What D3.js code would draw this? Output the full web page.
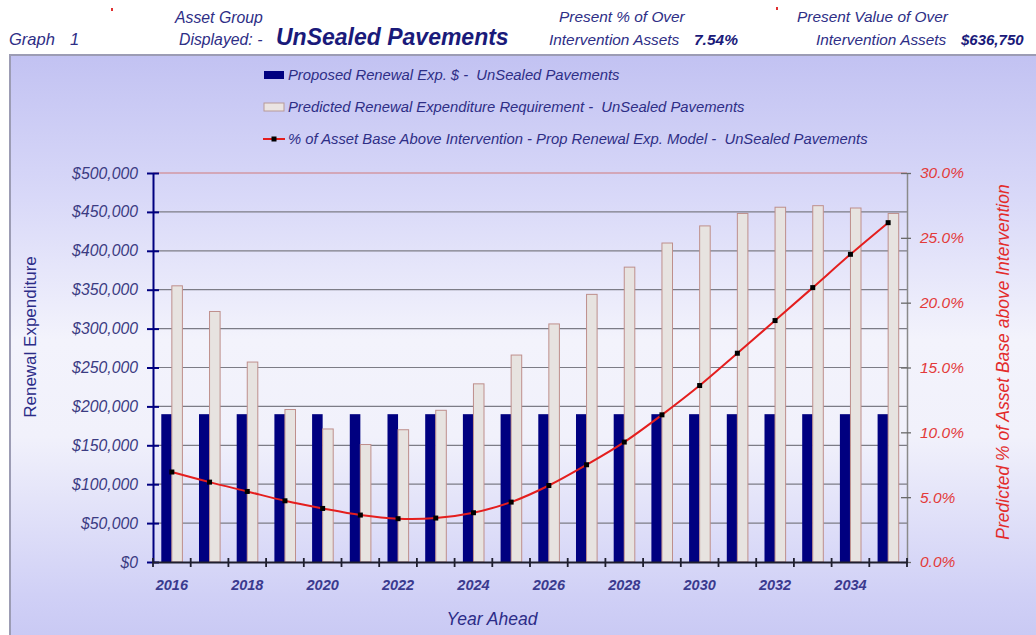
<!DOCTYPE html>
<html>
<head>
<meta charset="utf-8">
<script src="https://cdn.jsdelivr.net/npm/d3@7"></script>
<style>
  body { margin: 0; background: #ffffff; }
  svg { display: block; font-family: "Liberation Sans", Arial, sans-serif; }
</style>
</head>
<body>
<svg id="chart" width="1036" height="635"></svg>
<script>
// ---- data ----
const years = ["2016","2017","2018","2019","2020","2021","2022","2023","2024","2025",
               "2026","2027","2028","2029","2030","2031","2032","2033","2034","2035"];
const proposedRenewal = [190000,190000,190000,190000,190000,190000,190000,190000,190000,190000,
                         190000,190000,190000,190000,190000,190000,190000,190000,190000,190000];
const predictedRequirement = [355000,322000,257000,196000,171000,151000,170000,195000,229000,266000,
                              306000,344000,379000,410000,432000,448000,456000,458000,455000,448000];
const pctAboveIntervention = [6.94,6.16,5.44,4.72,4.13,3.62,3.34,3.39,3.80,4.62,
                              5.90,7.50,9.25,11.35,13.61,16.10,18.62,21.16,23.73,26.17];
const moneyTicks = [0,50000,100000,150000,200000,250000,300000,350000,400000,450000,500000];
const pctTicks = [0,5,10,15,20,25,30];
const yearLabels = ["2016","2018","2020","2022","2024","2026","2028","2030","2032","2034"];

const seriesNames = [
  "Proposed Renewal Exp. $ -  UnSealed Pavements",
  "Predicted Renewal Expenditure Requirement -  UnSealed Pavements",
  "% of Asset Base Above Intervention - Prop Renewal Exp. Model -  UnSealed Pavements"
];

// ---- setup ----
const svg = d3.select("#chart");
const W = 1036, H = 635;
const plot = { left: 153, right: 907, top: 173, bottom: 562 };
const navy = "#000080";
const textBlue = "#2e2e86";
const red = "#e32b2b";

// panel background
const defs = svg.append("defs");
const grad = defs.append("linearGradient").attr("id", "panelBg")
  .attr("x1", 0).attr("y1", 0).attr("x2", 0).attr("y2", 1);
[[0, "#c2c2f2"], [0.22, "#d8d8f8"], [0.45, "#f3f3fc"], [0.6, "#f1f1fb"], [0.85, "#d0d0f6"], [1, "#c1c1f1"]]
  .forEach(([o, c]) => grad.append("stop").attr("offset", o).attr("stop-color", c));

svg.append("rect").attr("x", 0).attr("y", 0).attr("width", W).attr("height", H).attr("fill", "#ffffff");
svg.append("rect").attr("x", 10).attr("y", 55).attr("width", W).attr("height", H)
  .attr("fill", "url(#panelBg)").attr("stroke", "#9c9cb4").attr("stroke-width", 2);

// ---- header ----
const header = svg.append("g").attr("fill", textBlue).attr("font-style", "italic");
header.append("text").attr("x", 9).attr("y", 45).attr("font-size", 16.5).text("Graph");
header.append("text").attr("x", 70).attr("y", 45).attr("font-size", 16.5).text("1");
header.append("text").attr("x", 175).attr("y", 23).attr("font-size", 15.8).text("Asset Group");
header.append("text").attr("x", 179).attr("y", 45).attr("font-size", 15.8).text("Displayed: -");
header.append("text").attr("x", 276).attr("y", 45).attr("font-size", 23).attr("font-weight", "bold")
  .attr("fill", "#1a1a7a").text("UnSealed Pavements");
header.append("text").attr("x", 559).attr("y", 22).attr("font-size", 15.4).text("Present % of Over");
header.append("text").attr("x", 549).attr("y", 45).attr("font-size", 15.4).text("Intervention Assets");
header.append("text").attr("x", 694).attr("y", 45).attr("font-size", 15.5).attr("font-weight", "bold")
  .attr("fill", "#1a1a7a").text("7.54%");
header.append("text").attr("x", 797).attr("y", 22).attr("font-size", 15.4).text("Present Value of Over");
header.append("text").attr("x", 816).attr("y", 45).attr("font-size", 15.4).text("Intervention Assets");
header.append("text").attr("x", 961).attr("y", 45).attr("font-size", 15).attr("font-weight", "bold")
  .attr("fill", "#1a1a7a").text("$636,750");
// small red markers in the header
svg.append("rect").attr("x", 111).attr("y", 8).attr("width", 2).attr("height", 3).attr("fill", "#e03030");
svg.append("rect").attr("x", 776).attr("y", 7).attr("width", 2).attr("height", 3).attr("fill", "#e03030");

// ---- scales ----
const x = d3.scaleBand().domain(years).range([plot.left, plot.right]).padding(0);
const yL = d3.scaleLinear().domain([0, 500000]).range([plot.bottom, plot.top]);
const yR = d3.scaleLinear().domain([0, 30]).range([plot.bottom, plot.top]);
const barW = x.bandwidth() * 0.28;
const cx = d => x(d) + x.bandwidth() / 2;

// ---- gridlines ----
svg.append("g").selectAll("line").data(moneyTicks.filter(v => v > 0)).join("line")
  .attr("x1", plot.left).attr("x2", plot.right)
  .attr("y1", d => yL(d)).attr("y2", d => yL(d))
  .attr("stroke", d => d === 500000 ? "#d27a7a" : "#7c7c86")
  .attr("stroke-width", 1.2);

// ---- bars ----
svg.append("g").selectAll("rect").data(years).join("rect")
  .attr("x", (d) => cx(d) - barW)
  .attr("y", (d, i) => yL(proposedRenewal[i]))
  .attr("width", barW)
  .attr("height", (d, i) => plot.bottom - yL(proposedRenewal[i]))
  .attr("fill", navy);

svg.append("g").selectAll("rect").data(years).join("rect")
  .attr("x", (d) => cx(d))
  .attr("y", (d, i) => yL(predictedRequirement[i]))
  .attr("width", barW)
  .attr("height", (d, i) => plot.bottom - yL(predictedRequirement[i]))
  .attr("fill", "#e7e3e0").attr("stroke", "#be8f8c").attr("stroke-width", 1);

// ---- line ----
const line = d3.line()
  .x((d, i) => cx(years[i]))
  .y(d => yR(d))
  .curve(d3.curveCatmullRom.alpha(0.5));
svg.append("path").datum(pctAboveIntervention)
  .attr("d", line).attr("fill", "none").attr("stroke", "#e41e1e").attr("stroke-width", 2);
svg.append("g").selectAll("rect").data(pctAboveIntervention).join("rect")
  .attr("x", (d, i) => cx(years[i]) - 2.5)
  .attr("y", d => yR(d) - 2.5)
  .attr("width", 5).attr("height", 5).attr("fill", "#000000");

// ---- left axis ----
const axL = svg.append("g").attr("transform", `translate(${plot.left},0)`)
  .call(d3.axisLeft(yL).tickValues(moneyTicks).tickFormat(d => "$" + d3.format(",")(d))
    .tickSizeInner(6).tickSizeOuter(0).tickPadding(9));
axL.select(".domain").attr("stroke", navy).attr("stroke-width", 2);
axL.selectAll(".tick line").attr("x1", 6).attr("stroke", navy).attr("stroke-width", 2);
axL.selectAll(".tick text").attr("font-size", 15.8).attr("font-style", "italic")
  .attr("fill", "#3b3b82").attr("font-family", "Liberation Sans, Arial, sans-serif");

// ---- right axis ----
const axR = svg.append("g").attr("transform", `translate(${plot.right},0)`)
  .call(d3.axisRight(yR).tickValues(pctTicks).tickFormat(d => d.toFixed(1) + "%")
    .tickSizeInner(4).tickSizeOuter(0).tickPadding(9));
axR.select(".domain").attr("stroke", "#8a8a8a").attr("stroke-width", 1.5);
axR.selectAll(".tick line").attr("x1", -6).attr("stroke", "#6a6a6a").attr("stroke-width", 1.3);
axR.selectAll(".tick text").attr("font-size", 15.5).attr("font-style", "italic")
  .attr("fill", "#e33a3a").attr("font-family", "Liberation Sans, Arial, sans-serif");

// ---- bottom axis ----
const axB = svg.append("g").attr("transform", `translate(0,${plot.bottom})`)
  .call(d3.axisBottom(x).tickValues(yearLabels).tickSize(0).tickPadding(18));
axB.select(".domain").attr("stroke", "#1e1e2e").attr("stroke-width", 2);
axB.selectAll(".tick text").attr("font-size", 14.5).attr("font-style", "italic").attr("font-weight", "bold")
  .attr("fill", "#3a3a8e").attr("font-family", "Liberation Sans, Arial, sans-serif");
// category boundary ticks
const bounds = years.map(d => x(d)).concat([plot.right]);
axB.append("g").selectAll("line").data(bounds).join("line")
  .attr("x1", d => d).attr("x2", d => d).attr("y1", -4).attr("y2", 5)
  .attr("stroke", "#1e1e2e").attr("stroke-width", 1.8);

// ---- axis titles ----
svg.append("text").attr("transform", "translate(36,337) rotate(-90)")
  .attr("text-anchor", "middle").attr("font-size", 17).attr("fill", "#2c2c88")
  .text("Renewal Expenditure");
svg.append("text").attr("transform", "translate(1009,362) rotate(-90)")
  .attr("text-anchor", "middle").attr("font-size", 17.5).attr("font-style", "italic").attr("fill", red)
  .text("Predicted % of Asset Base above Intervention");
svg.append("text").attr("x", 492).attr("y", 625)
  .attr("text-anchor", "middle").attr("font-size", 17.5).attr("font-style", "italic").attr("fill", "#2c2c88")
  .text("Year Ahead");

// ---- legend ----
const legend = svg.append("g");
const rowY = [75, 107, 139];
legend.append("rect").attr("x", 264).attr("y", rowY[0] - 4).attr("width", 20).attr("height", 8).attr("fill", navy);
legend.append("rect").attr("x", 264).attr("y", rowY[1] - 4).attr("width", 20).attr("height", 8)
  .attr("fill", "#ebe4e2").attr("stroke", "#b79a98").attr("stroke-width", 1);
legend.append("line").attr("x1", 263).attr("x2", 285).attr("y1", rowY[2]).attr("y2", rowY[2])
  .attr("stroke", "#e41e1e").attr("stroke-width", 2);
legend.append("rect").attr("x", 271.5).attr("y", rowY[2] - 2.5).attr("width", 5).attr("height", 5).attr("fill", "#000");
legend.selectAll("text").data(seriesNames).join("text")
  .attr("x", 288).attr("y", (d, i) => rowY[i] + 5)
  .attr("font-size", 14.8).attr("font-style", "italic").attr("fill", textBlue)
  .attr("xml:space", "preserve").style("white-space", "pre")
  .text(d => d);
</script>
</body>
</html>
